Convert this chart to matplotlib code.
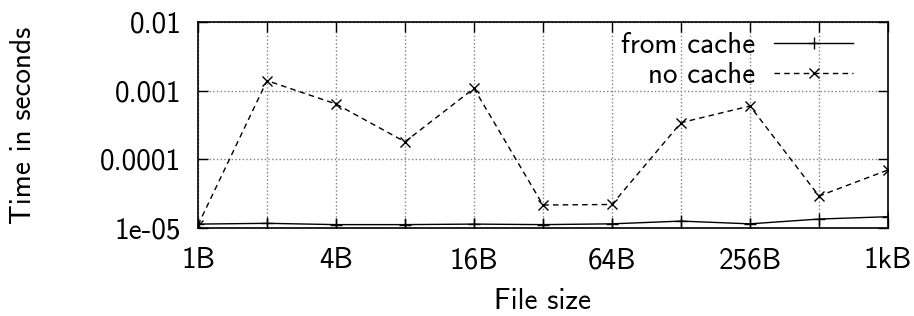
import matplotlib.pyplot as plt
import numpy as np

# file sizes in bytes (powers of two from 1B to 1kB)
sizes = [1, 2, 4, 8, 16, 32, 64, 128, 256, 512, 1024]
size_labels = ['1B', '', '4B', '', '16B', '', '64B', '', '256B', '', '1kB']

# measured times in seconds
from_cache = [1.14e-5, 1.17e-5, 1.12e-5, 1.12e-5, 1.14e-5, 1.12e-5,
              1.15e-5, 1.26e-5, 1.15e-5, 1.35e-5, 1.46e-5]
no_cache = [1.1e-5, 1.4e-3, 6.4e-4, 1.8e-4, 1.08e-3, 2.16e-5,
            2.2e-5, 3.42e-4, 5.98e-4, 2.92e-5, 7.0e-5]

y_ticks = [1e-5, 1e-4, 1e-3, 1e-2]
y_labels = ['1e-05', '0.0001', '0.001', '0.01']

plt.rcParams['font.family'] = ['cmss10', 'DejaVu Sans']
plt.rcParams['axes.formatter.use_mathtext'] = True

fs = 21
fig = plt.figure(figsize=(9.14, 3.16), dpi=100)
ax = fig.add_axes([198 / 914, 1 - 228 / 316, 690 / 914, 206 / 316])

ax.plot(sizes, from_cache, color='black', lw=1.0, marker='+', ms=8,
        mew=1.0, label='from cache')
ax.plot(sizes, no_cache, color='black', lw=1.0, ls=(0, (4, 3)), marker='x',
        ms=7, mew=1.0, label='no cache')

ax.set_xscale('log', base=2)
ax.set_yscale('log')
ax.set_xlim(1, 1024)
ax.set_ylim(1e-5, 1e-2)

ax.set_xticks(sizes)
ax.set_xticklabels(size_labels)
ax.xaxis.set_minor_locator(plt.NullLocator())
ax.set_yticks(y_ticks)
ax.set_yticklabels(y_labels)

ax.tick_params(which='both', direction='in', top=True, right=True,
               labelsize=fs, width=1.0, color='black')
ax.tick_params(which='major', length=7, pad=12)
ax.tick_params(which='minor', length=4)
ax.tick_params(axis='x', which='major', pad=14)

ax.grid(True, which='major', color='gray', ls=':', lw=1.0)
for s in ax.spines.values():
    s.set_linewidth(1.2)

ax.set_xlabel('File size', fontsize=fs, labelpad=10)
ax.set_ylabel('Time in seconds', fontsize=fs)
ax.yaxis.set_label_coords(-0.234, 0.5)

leg = ax.legend(loc='upper right', frameon=False, markerfirst=False,
                fontsize=fs, handlelength=2.7, borderaxespad=0.8,
                labelspacing=0.1, handletextpad=0.65,
                bbox_to_anchor=(1.0, 1.0 + 25 / 206))

plt.savefig('out.png', dpi=100)
